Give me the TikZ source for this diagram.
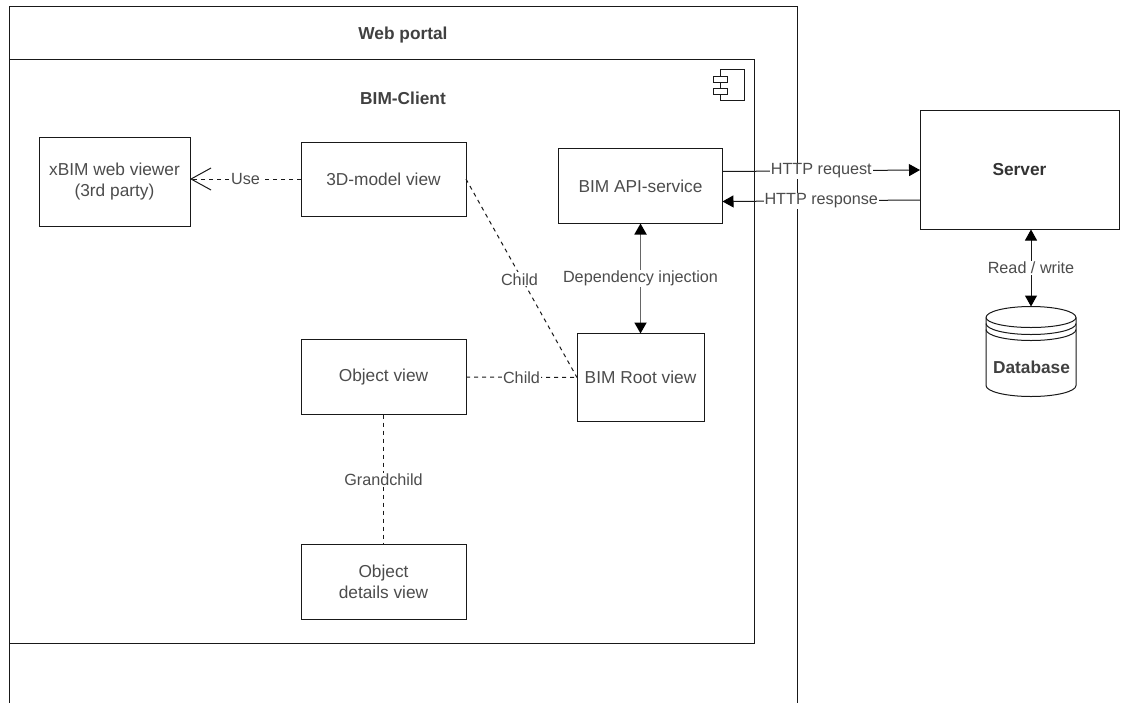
\documentclass[tikz,border=0pt]{standalone}
\usepackage{fontspec}
\setmainfont{Liberation Sans}
\usetikzlibrary{arrows.meta}
\newcommand{\pagew}{1141}
\newcommand{\pageh}{702.5}
\newcommand{\boxfont}{\fontsize{17.3}{21}\selectfont}
\tikzset{
    box/.style={draw=black!90,line width=1pt,fill=none,inner sep=0pt,outer sep=0pt,align=center,font=\boxfont,text=black!70},
    title/.style={font=\boxfont\bfseries,text=black!75},
    link/.style={draw=black!90,line width=1pt},
    dashlink/.style={link,dash pattern=on 4pt off 4pt},
    tag/.style={fill=white,inner sep=1pt,font=\fontsize{16.2}{19}\selectfont,text=black!70},
    tip/.style={-{Triangle[length=11pt,width=12pt,color=black]}},
    bothtip/.style={{Triangle[length=11pt,width=12pt,color=black]}-{Triangle[length=11pt,width=12pt,color=black]}}
}
\begin{document}
\begin{tikzpicture}[x=1pt,y=-1pt]
    \useasboundingbox (0,0.5) rectangle (\pagew,\pageh);
    \node [box,minimum width=788pt,minimum height=713pt] (webportal) at (403,363.5) {};
    \node [box,minimum width=745pt,minimum height=584pt] (bimclient) at (381.5,352) {};
    \node [title] (webtitle) at (403,35.5) {Web portal};
    \node [title] (clienttitle) at (403,98.5) {BIM-Client};

    % component icon
    \draw [line width=1pt,black!90] (720,70) rectangle (744,100.5);
    \draw [line width=1pt,black!90,fill=white] (713,76.5) rectangle (727,83);
    \draw [line width=1pt,black!90,fill=white] (713,88.5) rectangle (727,95);

    \node [box,minimum width=151pt,minimum height=89pt] (xbim) at (114.5,182.5) {xBIM web viewer\\(3rd party)};
    \node [box,minimum width=165pt,minimum height=74pt] (threed) at (383.5,179.5) {3D-model view};
    \node [box,minimum width=164pt,minimum height=75pt] (apiservice) at (640.5,186.5) {BIM API-service};
    \node [box,minimum width=127pt,minimum height=88pt] (rootview) at (640.5,378) {BIM Root view};
    \node [box,minimum width=165pt,minimum height=75pt] (objectview) at (383.5,377.5) {Object view};
    \node [box,minimum width=165pt,minimum height=75pt] (detailsview) at (383.5,582.5) {Object\\details view};
    \node [box,minimum width=199pt,minimum height=119pt,font=\boxfont\bfseries,text=black!80] (server) at (1019.5,170.5) {Server};
    \node [inner sep=0pt,outer sep=0pt,minimum width=90pt,minimum height=90pt] (database) at (1031,352) {};

    % database drum
    \draw [line width=1pt,black!90] (986,318) arc [x radius=45,y radius=-11,start angle=180,end angle=0]
        -- (1076,386) arc [x radius=45,y radius=11,start angle=0,end angle=180] -- cycle;
    \draw [line width=1pt,black!90] (986,318) arc [x radius=45,y radius=10,start angle=180,end angle=0];
    \draw [line width=1pt,black!90] (986,324) arc [x radius=45,y radius=11,start angle=180,end angle=0];
    \draw [line width=1pt,black!90] (986,330) arc [x radius=45,y radius=11,start angle=180,end angle=0];
    \node [title] (dblabel) at (1031.5,367.5) {Database};

    \draw [dashlink,-{Straight Barb[length=20pt,width=22pt]}] (threed.west) -- node [tag] {Use} (xbim.east |- threed.west);
    \draw [dashlink] (threed.east) -- node [tag,xshift=-2pt,yshift=-1pt] {Child} (rootview.west);
    \draw [dashlink] (objectview.east) -- node [tag] {Child} (rootview.west);
    \draw [dashlink] (objectview.south) -- node [tag] {Grandchild} (detailsview.north);
    \draw [link,line width=1.8pt,draw=black!60,bothtip] (apiservice.south) -- node [tag] {Dependency injection} (rootview.north);
    \draw [link,tip] ([yshift=14.5pt]apiservice.east) -- node [tag] {HTTP request} (server.west);
    \draw [link,tip] ([yshift=-30pt]server.west) -- node [tag] {HTTP response} ([yshift=-15.5pt]apiservice.east);
    \draw [link,bothtip] (server.south -| database.north) -- node [tag] {Read / write} (database.north);
\end{tikzpicture}
\end{document}
